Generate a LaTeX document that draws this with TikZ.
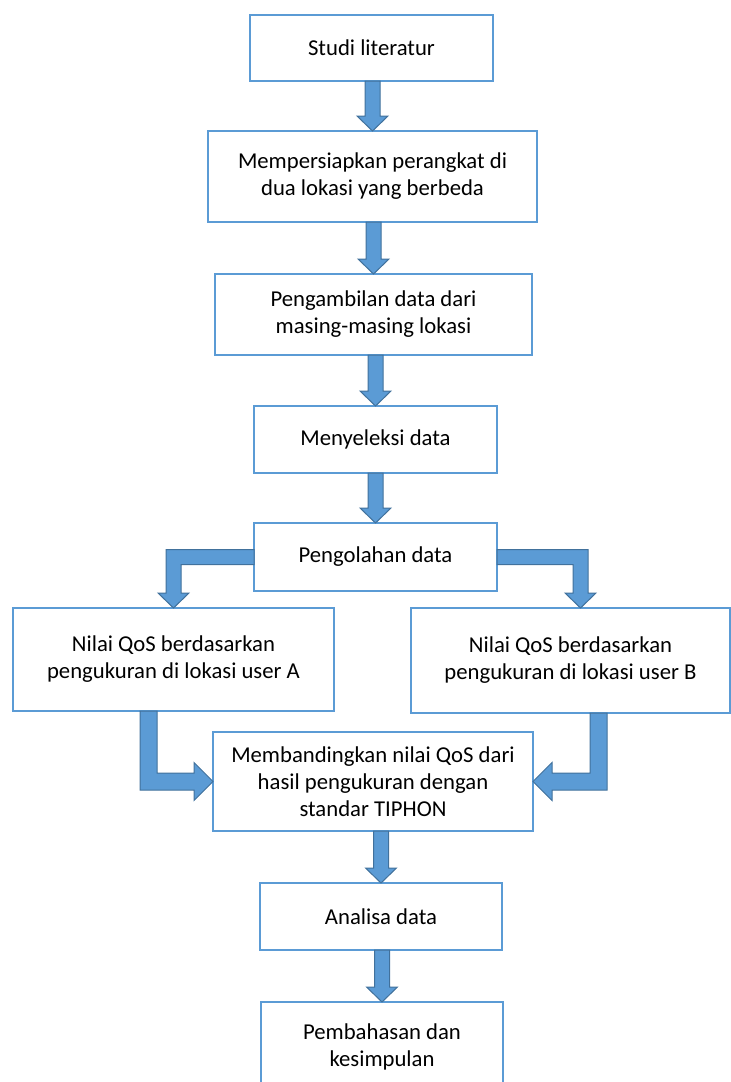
\documentclass[tikz,border=0pt]{standalone}
\usepackage{fontspec}
\setmainfont{Carlito}
\usepackage{tikz}
\usetikzlibrary{calc,positioning}
\definecolor{boxc}{HTML}{5B9BD5}
\definecolor{arrc}{HTML}{5B9BD5}
\definecolor{arrd}{HTML}{41719C}
\tikzset{
  box/.style={draw=boxc,line width=1.8pt,fill=white,align=center,inner sep=0pt,outer sep=0pt,font=\fontsize{22.7}{27}\selectfont},
  blk/.style={fill=arrc,draw=arrd,line width=1pt}
}
% block arrow straight down, from #1 to the top of #2
\newcommand{\blockdown}[2]{%
  \filldraw[blk] ($(#1.south -| #2.north)+(-7.5,0)$) -- ($(#2.north)+(-7.5,-15)$) -- ($(#2.north)+(-15.5,-15)$)
    -- (#2.north) -- ($(#2.north)+(15.5,-15)$) -- ($(#2.north)+(7.5,-15)$) -- ($(#1.south -| #2.north)+(7.5,0)$) -- cycle;}
\begin{document}
\begin{tikzpicture}[x=1pt,y=-1pt]
\useasboundingbox (0,0) rectangle (731,1082);
\clip (0,0) rectangle (731,1082);
\node[box,minimum width=243pt,minimum height=66pt] (lit) at (371.5,48) {Studi literatur};
\node[box,minimum width=329pt,minimum height=91pt] (prep) at (372.5,176.5) {Mempersiapkan perangkat di\\dua lokasi yang berbeda};
\node[box,minimum width=317pt,minimum height=81pt] (ambil) at (373.5,314.5) {Pengambilan data dari\\masing-masing lokasi};
\node[box,minimum width=243pt,minimum height=67pt] (seleksi) at (375.5,439.5) {Menyeleksi data};
\node[box,minimum width=243pt,minimum height=68pt] (olah) at (375.5,557) {Pengolahan data};
\node[box,minimum width=321pt,minimum height=103pt] (qosa) at (173.5,659.5) {Nilai QoS berdasarkan\\pengukuran di lokasi user A};
\node[box,minimum width=319pt,minimum height=105pt] (qosb) at (570.5,660.5) {Nilai QoS berdasarkan\\pengukuran di lokasi user B};
\node[box,minimum width=320pt,minimum height=99pt] (banding) at (373,781.5) {Membandingkan nilai QoS dari\\hasil pengukuran dengan\\standar TIPHON};
\node[box,minimum width=242pt,minimum height=67pt] (analisa) at (381,916.5) {Analisa data};
\node[box,minimum width=242pt,minimum height=90pt] (bahas) at (382,1047) {Pembahasan dan\\kesimpulan};
% straight arrows
\blockdown{lit}{prep}
\blockdown{prep}{ambil}
\blockdown{ambil}{seleksi}
\blockdown{seleksi}{olah}
\blockdown{banding}{analisa}
\blockdown{analisa}{bahas}
% split to both users
\coordinate (ca) at (olah.west -| qosa.north);
\filldraw[blk] ($(olah.west)+(0,-7.5)$) -- ($(ca)+(-7.5,-7.5)$) -- ($(qosa.north)+(-7.5,-15)$) -- ($(qosa.north)+(-15.5,-15)$)
  -- (qosa.north) -- ($(qosa.north)+(15.5,-15)$) -- ($(qosa.north)+(7.5,-15)$) -- ($(ca)+(7.5,7.5)$) -- ($(olah.west)+(0,7.5)$) -- cycle;
\coordinate (tb) at ($(qosb.north)+(10,0)$);
\coordinate (cb) at (olah.east -| tb);
\filldraw[blk] ($(olah.east)+(0,-7.5)$) -- ($(cb)+(7.5,-7.5)$) -- ($(tb)+(7.5,-15)$) -- ($(tb)+(15.5,-15)$)
  -- (tb) -- ($(tb)+(-15.5,-15)$) -- ($(tb)+(-7.5,-15)$) -- ($(cb)+(-7.5,7.5)$) -- ($(olah.east)+(0,7.5)$) -- cycle;
% join into comparison
\coordinate (sa) at ($(qosa.south)+(-25,0)$);
\coordinate (ka) at (sa |- banding.west);
\filldraw[blk] ($(sa)+(-8.5,0)$) -- ($(ka)+(-8.5,8.5)$) -- ($(banding.west)+(-19,8.5)$) -- ($(banding.west)+(-19,19)$)
  -- (banding.west) -- ($(banding.west)+(-19,-19)$) -- ($(banding.west)+(-19,-8.5)$) -- ($(ka)+(8.5,-8.5)$) -- ($(sa)+(8.5,0)$) -- cycle;
\coordinate (sb) at ($(qosb.south)+(28,0)$);
\coordinate (kb) at (sb |- banding.east);
\filldraw[blk] ($(sb)+(8.5,0)$) -- ($(kb)+(8.5,8.5)$) -- ($(banding.east)+(19,8.5)$) -- ($(banding.east)+(19,19)$)
  -- (banding.east) -- ($(banding.east)+(19,-19)$) -- ($(banding.east)+(19,-8.5)$) -- ($(kb)+(-8.5,-8.5)$) -- ($(sb)+(-8.5,0)$) -- cycle;
\end{tikzpicture}
\end{document}
